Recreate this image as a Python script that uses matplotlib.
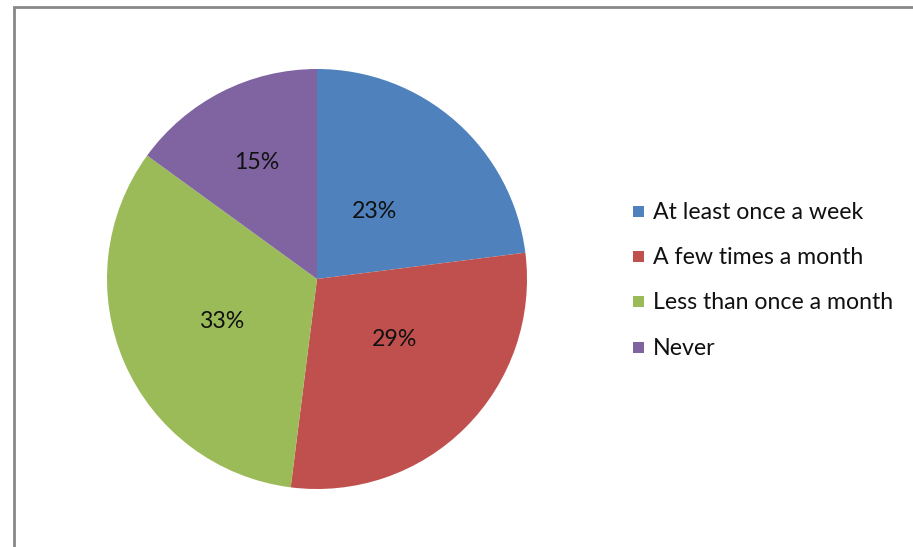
import matplotlib
matplotlib.use("Agg")
import matplotlib.pyplot as plt
from matplotlib.patches import Rectangle
import numpy as np

categories = ["At least once a week", "A few times a month", "Less than once a month", "Never"]
values = [23, 29, 33, 15]
pct_labels = ["23%", "29%", "33%", "15%"]
colors = ["#4F81BD", "#C0504D", "#9BBB59", "#8064A2"]
label_dist = [0.426, 0.464, 0.497, 0.627]
label_angle_shift = [1.8, 7.7, 0.0, 0.0]

W, H = 913, 547
fig = plt.figure(figsize=(W / 100, H / 100), dpi=100)
plt.rcParams['font.family'] = ['Lato', 'DejaVu Sans']
FS = 16.7

# chart border
fig.patches.append(Rectangle((14 / W, -0.1), 1.2, 1.1 - 7 / H, transform=fig.transFigure,
                             fill=False, edgecolor="#888888", linewidth=2.0))

cx, cy, r = 317, 279, 210
ax = fig.add_axes([(cx - r) / W, (H - cy - r) / H, 2 * r / W, 2 * r / H])
wedges, _ = ax.pie(values, colors=colors, startangle=90, counterclock=False,
                   radius=1.0, wedgeprops=dict(linewidth=0))
ax.set_xlim(-1, 1)
ax.set_ylim(-1, 1)
ax.axis("off")

for w, lab, d, s in zip(wedges, pct_labels, label_dist, label_angle_shift):
    ang = np.deg2rad((w.theta1 + w.theta2) / 2 + s)
    ax.text(d * np.cos(ang), d * np.sin(ang) - 0.005, lab, ha="center", va="center",
            fontsize=FS, color="#111111")

# legend
rows = [211, 256, 301, 347]
for cat, col, y in zip(categories, colors, rows):
    fig.patches.append(Rectangle((633 / W, 1 - (y + 6) / H), 11 / W, 11 / H,
                                 transform=fig.transFigure, facecolor=col, edgecolor="none"))
    fig.text(653 / W, 1 - (y + 1.5) / H, cat, ha="left", va="center", fontsize=FS, color="#111111")

fig.savefig("out.png", dpi=100)
